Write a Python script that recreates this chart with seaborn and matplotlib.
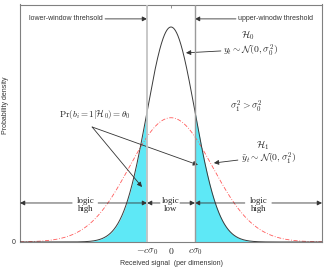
import numpy as np
import pandas as pd
import seaborn as sns
import matplotlib.pyplot as plt

# parametry, schitany s kartinki (v edinicah sigma_0)
sigma0 = 1.0
sigma1 = 1.73          # sigma_1^2 ~ 3 sigma_0^2
c = 1.0                # porog okna c*sigma_0
x_range = [-6.3, 6.3]
x_ticks = [-c * sigma0, 0.0, c * sigma0]
x_ticklabels = [r'$-c\sigma_0$', r'$0$', r'$c\sigma_0$']
y_ticks = [0.0]
y_ticklabels = ['0']

sns.set_style('white')
plt.rcParams['font.family'] = ['Liberation Sans', 'DejaVu Sans']
plt.rcParams['mathtext.fontset'] = 'cm'


def gauss(x, s):
    return np.exp(-x ** 2 / (2 * s ** 2)) / (s * np.sqrt(2 * np.pi))


x = np.linspace(x_range[0], x_range[1], 1261)
df = pd.DataFrame({'x': x, 'h0': gauss(x, sigma0), 'h1': gauss(x, sigma1)})

fig = plt.figure(figsize=(3.3, 2.67), dpi=100)
ax = fig.add_axes([20 / 330, 25 / 267, 302 / 330, 237.5 / 267])

cyan = '#5ee8f6'
left = df[df.x <= -c * sigma0]
right = df[df.x >= c * sigma0]
ax.fill_between(left.x, left.h0, color=cyan, lw=0, zorder=1)
ax.fill_between(right.x, right.h0, color=cyan, lw=0, zorder=1)

sns.lineplot(data=df, x='x', y='h1', ax=ax, color='#ff5a5a', lw=0.6,
             linestyle=(0, (5, 2, 1, 2)), zorder=2)
sns.lineplot(data=df, x='x', y='h0', ax=ax, color='#3a3a3a', lw=0.7, zorder=3)

ax.axvline(-c * sigma0, color='#c4c4c4', lw=1.3, zorder=4)
ax.axvline(c * sigma0, color='#9a9a9a', lw=1.0, zorder=4)

ax.set_xlim(x_range)
ax.set_ylim(0, 0.4407)
ax.set_xticks(x_ticks, x_ticklabels, fontsize=7)
ax.set_yticks(y_ticks, y_ticklabels, fontsize=5, color='#333333')
ax.tick_params(direction='in', length=2, width=0.6, color='#808080',
               top=True, pad=3)
for s in ax.spines.values():
    s.set_color('#808080')
    s.set_linewidth(0.8)

ax.set_xlabel('Received signal  (per dimension)', fontsize=5, color='#333333',
              labelpad=2)
ax.set_ylabel('Probability density', fontsize=5, color='#333333')
ax.yaxis.set_label_coords(-0.035, 0.577)

arr = dict(arrowstyle='-|>', color='#333333', lw=0.6, mutation_scale=7,
           shrinkA=0, shrinkB=0)
serif = ['Liberation Serif', 'DejaVu Serif']

# porogi
ax.text(-2.83, 0.414, 'lower-window threhsold', fontsize=5, color='#333333',
        ha='right', va='center')
ax.annotate('', xy=(-1.0, 0.414), xytext=(-2.75, 0.414), arrowprops=arr)
ax.text(2.79, 0.414, 'upper-winodw threshold', fontsize=5, color='#333333',
        ha='left', va='center')
ax.annotate('', xy=(1.0, 0.414), xytext=(2.71, 0.414), arrowprops=arr)

# H0
ax.text(3.21, 0.384, r'$\mathcal{H}_0$', fontsize=7, ha='center', va='center')
ax.text(2.17, 0.3545, r'$y_t \sim \mathcal{N}(0,\sigma_0^2)$', fontsize=7,
        ha='left', va='center')
ax.annotate('', xy=(0.625, 0.351), xytext=(2.08, 0.3545), arrowprops=arr)

ax.text(3.125, 0.2506, r'$\sigma_1^2 > \sigma_0^2$', fontsize=7,
        ha='center', va='center')

# Pr(b_i = 1 | H0)
ax.text(-3.19, 0.2376, r'$\Pr(b_i=1|\mathcal{H}_0)=\theta_0$', fontsize=6.5,
        ha='center', va='center')
ax.annotate('', xy=(-1.21, 0.102), xytext=(-3.29, 0.2134), arrowprops=arr)
ax.annotate('', xy=(1.125, 0.143), xytext=(-3.29, 0.2134), arrowprops=arr)

# H1
ax.text(3.83, 0.180, r'$\mathcal{H}_1$', fontsize=7, ha='center', va='center')
ax.text(2.92, 0.154, r'$\tilde{y}_t \sim \mathcal{N}(0,\sigma_1^2)$',
        fontsize=7, ha='left', va='center')
ax.annotate('', xy=(1.79, 0.1466), xytext=(2.79, 0.152), arrowprops=arr)

# logic high / low
ya = 0.0724
ax.text(-3.56, 0.069, 'logic\nhigh', fontsize=6.3, family=serif, ha='center',
        va='center', linespacing=1.1, color='#222222')
ax.annotate('', xy=(-6.3, ya), xytext=(-4.125, ya), arrowprops=arr)
ax.annotate('', xy=(-1.0, ya), xytext=(-3.04, ya), arrowprops=arr)

ax.text(0.0, 0.069, 'logic\nlow', fontsize=6.3, family=serif, ha='center',
        va='center', linespacing=1.1, color='#222222')
ax.annotate('', xy=(-1.0, ya), xytext=(-0.46, ya), arrowprops=arr)
ax.annotate('', xy=(1.0, ya), xytext=(0.375, ya), arrowprops=arr)

ax.text(3.67, 0.069, 'logic\nhigh', fontsize=6.3, family=serif, ha='center',
        va='center', linespacing=1.1, color='#222222')
ax.annotate('', xy=(1.0, ya), xytext=(3.08, ya), arrowprops=arr)
ax.annotate('', xy=(6.3, ya), xytext=(4.21, ya), arrowprops=arr)

plt.savefig('out.png', dpi=100)
